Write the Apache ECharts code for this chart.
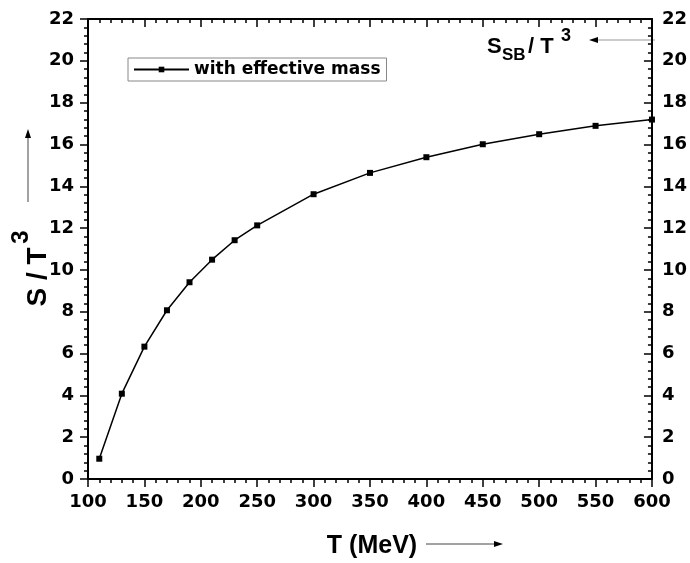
<!DOCTYPE html>
<html>
<head>
<meta charset="utf-8">
<script src="https://cdn.jsdelivr.net/npm/echarts@6/dist/echarts.min.js"></script>
<style>html,body{margin:0;padding:0;background:#fff}#c{width:690px;height:563px}</style>
</head>
<body>
<div id="c"></div>
<script>
const temperatures = [110, 130, 150, 170, 190, 210, 230, 250, 300, 350, 400, 450, 500, 550, 600];
const entropyRatio = [0.97, 4.08, 6.33, 8.07, 9.41, 10.49, 11.42, 12.13, 13.62, 14.64, 15.39, 16.01, 16.49, 16.89, 17.19];
const seriesName = 'with effective mass';
const xTicks = { min: 100, max: 600, interval: 50 };
const yTicks = { min: 0, max: 22, interval: 2 };

const chart = echarts.init(document.getElementById('c'), null, { renderer: 'canvas' });
const tickFont = { fontFamily: 'DejaVu Sans', fontWeight: 'bold', fontSize: 18, color: '#000' };
const axisLine = { show: true, onZero: false, lineStyle: { color: '#000', width: 2 } };

function xAx(pos, show) {
  return {
    type: 'value', position: pos, min: xTicks.min, max: xTicks.max, interval: xTicks.interval,
    axisLine: axisLine,
    axisTick: { show: true, inside: !show, length: 8, lineStyle: { color: '#000', width: 1.5 } },
    minorTick: { show: true, splitNumber: 5, length: 4, lineStyle: { color: '#000', width: 1.5 } },
    axisLabel: Object.assign({ show: show, margin: 14 }, tickFont),
    splitLine: { show: false }
  };
}
function yAx(pos, inside) {
  return {
    type: 'value', position: pos, min: yTicks.min, max: yTicks.max, interval: yTicks.interval,
    axisLine: axisLine,
    axisTick: { show: true, inside: inside, length: 8, lineStyle: { color: '#000', width: 1.5 } },
    minorTick: { show: true, splitNumber: 5, length: 4, lineStyle: { color: '#000', width: 1.5 } },
    axisLabel: Object.assign({ show: true, margin: inside ? 10 : 14 }, tickFont),
    splitLine: { show: false }
  };
}

const titleFont = 'Liberation Sans, Arial, sans-serif';

chart.setOption({
  animation: false,
  backgroundColor: '#fff',
  grid: { left: 88, right: 33, top: 19, bottom: 84, containLabel: false },
  xAxis: [xAx('bottom', true), xAx('top', false)],
  yAxis: [yAx('left', false), yAx('right', true)],
  legend: {
    left: 128, top: 58, orient: 'horizontal',
    borderColor: '#888', borderWidth: 1, padding: [3, 6, 3, 5],
    itemWidth: 55, itemHeight: 7,
    textStyle: { fontFamily: 'DejaVu Sans', fontWeight: 'bold', fontSize: 17, color: '#000' },
    data: [seriesName]
  },
  series: [{
    name: seriesName, type: 'line', xAxisIndex: 0, yAxisIndex: 0,
    data: temperatures.map((t, i) => [t, entropyRatio[i]]),
    symbol: 'rect', symbolSize: 6, showSymbol: true,
    itemStyle: { color: '#000' },
    lineStyle: { color: '#000', width: 1.5 },
    clip: false
  }],
  graphic: [
    // Y axis title
    { type: 'text', x: 38, y: 277, rotation: Math.PI / 2,
      style: { text: 'S / T', font: 'bold 28px ' + titleFont, fill: '#000', align: 'center', verticalAlign: 'middle' } },
    { type: 'text', x: 21, y: 237, rotation: Math.PI / 2,
      style: { text: '3', font: 'bold 24px ' + titleFont, fill: '#000', align: 'center', verticalAlign: 'middle' } },
    { type: 'line', shape: { x1: 28, y1: 202, x2: 28, y2: 136 }, style: { stroke: '#444', lineWidth: 1 } },
    { type: 'polygon', shape: { points: [[28, 129], [25, 138], [31, 138]] }, style: { fill: '#000' } },
    // X axis title
    { type: 'text', x: 372, y: 546,
      style: { text: 'T (MeV)', font: 'bold 25px ' + titleFont, fill: '#000', align: 'center', verticalAlign: 'middle' } },
    { type: 'line', shape: { x1: 426, y1: 544, x2: 496, y2: 544 }, style: { stroke: '#444', lineWidth: 1 } },
    { type: 'polygon', shape: { points: [[503, 544], [494, 541], [494, 547]] }, style: { fill: '#000' } },
    // S_SB / T^3 annotation
    { type: 'text', x: 487, y: 47,
      style: { text: 'S', font: 'bold 22px ' + titleFont, fill: '#000', align: 'left', verticalAlign: 'middle' } },
    { type: 'text', x: 502, y: 55,
      style: { text: 'SB', font: 'bold 17px ' + titleFont, fill: '#000', align: 'left', verticalAlign: 'middle' } },
    { type: 'text', x: 528, y: 47,
      style: { text: '/ T', font: 'bold 22px ' + titleFont, fill: '#000', align: 'left', verticalAlign: 'middle' } },
    { type: 'text', x: 561, y: 36,
      style: { text: '3', font: 'bold 18px ' + titleFont, fill: '#000', align: 'left', verticalAlign: 'middle' } },
    { type: 'line', shape: { x1: 597, y1: 40, x2: 655, y2: 40 }, style: { stroke: '#999', lineWidth: 1 } },
    { type: 'polygon', shape: { points: [[589, 40], [598, 37], [598, 43]] }, style: { fill: '#000' } }
  ]
});
</script>
</body>
</html>
